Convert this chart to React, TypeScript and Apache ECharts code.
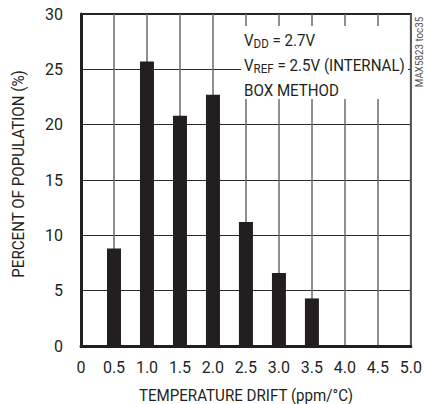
import React, { useEffect, useRef } from "react";
import * as echarts from "echarts";

const driftBins: number[] = [0.5, 1.0, 1.5, 2.0, 2.5, 3.0, 3.5];
const percentValues: number[] = [8.8, 25.7, 20.8, 22.7, 11.2, 6.6, 4.3];
const xTicks = { min: 0, max: 5, interval: 0.5 };
const yTicks = { min: 0, max: 30, interval: 5 };
const xAxisTitle = "TEMPERATURE DRIFT (ppm/°C)";
const yAxisTitle = "PERCENT OF POPULATION (%)";
const annotationLines: string[] = ["V{sub|DD} = 2.7V", "V{sub|REF} = 2.5V (INTERNAL)", "BOX METHOD"];
const figureTag = "MAX5823 toc35";

const FONT = "Roboto, 'Liberation Sans', sans-serif";
const INK = "#231f20";
const SQUEEZE = 0.89;

export default function App() {
  const ref = useRef<HTMLDivElement>(null);
  useEffect(() => {
    if (!ref.current) return;
    const chart = echarts.init(ref.current, null, { renderer: "svg" });
    const GL = 81, GR = 13, GT = 14, GB = 58;
    chart.setOption({
      animation: false,
      backgroundColor: "#ffffff",
      textStyle: { fontFamily: FONT },
      grid: {
        left: GL, right: GR, top: GT, bottom: GB,
        show: true, borderColor: INK, borderWidth: 2, backgroundColor: "transparent",
      },
      xAxis: {
        type: "value",
        min: xTicks.min, max: xTicks.max, interval: xTicks.interval,
        axisLine: { show: true, onZero: false, lineStyle: { color: INK, width: 3 } },
        axisTick: { show: false },
        axisLabel: {
          margin: 13, fontFamily: FONT, fontSize: 16, color: INK,
          formatter: (v: number) => (v === 0 ? "0" : v.toFixed(1)),
        },
        splitLine: { show: true, lineStyle: { color: "#6a6a6a", width: 1.5 } },
      },
      yAxis: {
        type: "value",
        min: yTicks.min, max: yTicks.max, interval: yTicks.interval,
        axisLine: { show: true, lineStyle: { color: INK, width: 3 } },
        axisTick: { show: false },
        axisLabel: { margin: 18, fontFamily: FONT, fontSize: 16, color: INK },
        splitLine: { show: true, lineStyle: { color: "#2a2a2a", width: 1 } },
      },
      series: [
        {
          type: "bar",
          barWidth: 14,
          itemStyle: { color: INK },
          data: driftBins.map((x, i) => [x, percentValues[i]]),
          z: 3,
        },
      ],
      graphic: [
        {
          type: "text",
          x: 246,
          y: 395,
          scaleX: SQUEEZE,
          style: {
            text: xAxisTitle, fontFamily: FONT, fontSize: 17, fill: INK,
            align: "center", verticalAlign: "middle",
          },
        },
        {
          type: "text",
          x: 18,
          y: 174,
          rotation: Math.PI / 2,
          scaleX: SQUEEZE,
          style: {
            text: yAxisTitle, fontFamily: FONT, fontSize: 17, fill: INK,
            align: "center", verticalAlign: "middle",
          },
        },
        {
          type: "rect",
          z: 50,
          shape: { x: 241, y: 26, width: 167, height: 73 },
          style: { fill: "#ffffff" },
        },
        ...annotationLines.map((t, i) => ({
          type: "text",
          z: 51,
          x: 244,
          y: 40 + i * 25,
          scaleX: SQUEEZE,
          style: {
            text: t,
            fontFamily: FONT,
            fontSize: 17,
            fill: INK,
            verticalAlign: "middle",
            align: "left",
            rich: {
              sub: { fontFamily: FONT, fontSize: 13, fill: INK, padding: [7, 0, 0, 0] },
            },
          },
        })),
        {
          type: "text",
          z: 51,
          x: 419,
          y: 52,
          rotation: Math.PI / 2,
          scaleX: SQUEEZE,
          style: {
            text: figureTag,
            fontFamily: FONT,
            fontSize: 11,
            fill: "#555555",
            align: "center",
            verticalAlign: "middle",
          },
        },
      ],
    });
    return () => chart.dispose();
  }, []);
  return <div ref={ref} style={{ width: 425, height: 404, position: "absolute", left: 0, top: 0 }} />;
}
